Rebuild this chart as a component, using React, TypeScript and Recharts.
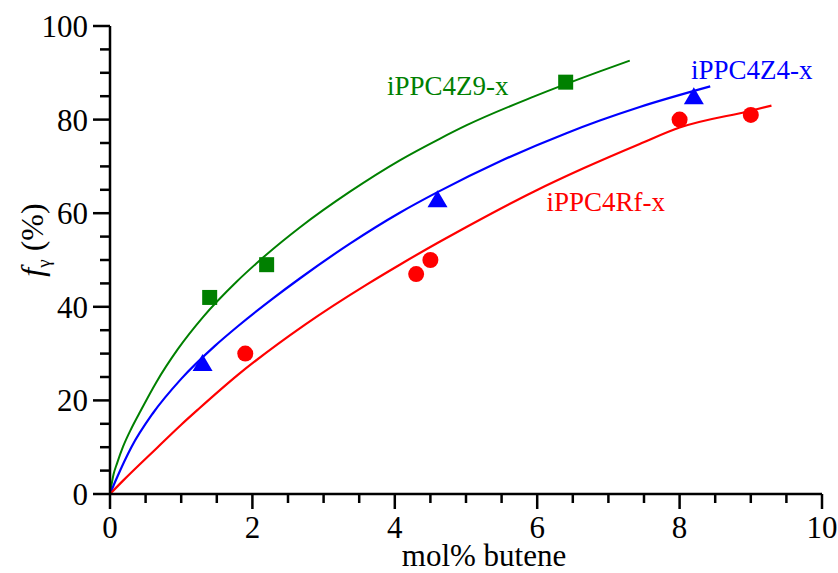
import React from 'react';
import { ComposedChart, Line, Scatter, XAxis, YAxis } from 'recharts';

const SERIF = '"Liberation Serif", "Times New Roman", serif';
const GREEN = '#008000';
const BLUE = '#0000ff';
const RED = '#ff0000';

// fitted curves as [mol% butene, f_gamma (%)]
const z9Curve = [
  [0, 0], [0.05, 4.2], [0.1, 6.6], [0.183, 10.1], [0.3, 14], [0.417, 17.4],
  [0.651, 23.9], [0.955, 31.0], [1.306, 37.8], [1.774, 45.3], [2.11, 50.0],
  [2.67, 57.0], [3.37, 64.6], [4.07, 71.3], [4.63, 75.9], [5.01, 78.8],
  [5.95, 84.9], [6.88, 90.3], [7.3, 92.6],
];
const z4Curve = [
  [0, 0], [0.089, 3.2], [0.3, 10], [0.6, 17.2], [1.0, 24.6], [1.47, 31.6],
  [1.8, 35.9], [2.29, 41.8], [2.67, 46.1], [3.37, 53.5], [4.07, 60.1],
  [4.6, 64.5], [5.48, 71.1], [6.41, 77.1], [6.88, 79.8], [7.44, 82.7],
  [8.43, 87.1],
];
const rfCurve = [
  [0, 0], [0.18, 2.8], [0.67, 10], [1.0, 14.8], [1.24, 18.1], [1.8, 25.5],
  [2.74, 36.2], [3.61, 44.8], [4.07, 49.0], [4.63, 53.9], [5.0, 57.0],
  [5.95, 64.6], [6.65, 69.6], [7.44, 74.8], [8.0, 78.3], [9.0, 81.9],
  [9.29, 83.0],
];

// measured samples
const z9Points = [[1.4, 42], [2.2, 49], [6.4, 88]];
const z4Points = [[1.3, 28], [4.6, 63], [8.2, 85]];
const rfPoints = [[1.9, 30], [4.3, 47], [4.5, 50], [8.0, 80], [9.0, 81]];

const xTicks = [0, 0.5, 1, 1.5, 2, 2.5, 3, 3.5, 4, 4.5, 5, 5.5, 6, 6.5, 7, 7.5, 8, 8.5, 9, 9.5, 10];
const yTicks = [0, 5, 10, 15, 20, 25, 30, 35, 40, 45, 50, 55, 60, 65, 70, 75, 80, 85, 90, 95, 100];

// series names, anchored at the start of their baseline (data units)
const seriesNames = [
  { name: 'iPPC4Z9-x', x: 3.89, y: 85.3, color: GREEN },
  { name: 'iPPC4Z4-x', x: 8.16, y: 88.6, color: BLUE },
  { name: 'iPPC4Rf-x', x: 6.13, y: 60.5, color: RED },
];

const toXY = (arr: number[][]) => arr.map(([x, y]) => ({ x, y }));

const XTick = (props: any) => {
  const { x, y, payload } = props;
  const major = payload.value % 2 === 0;
  return (
    <g>
      <line x1={x} x2={x} y1={y} y2={y + (major ? 15 : 9)} stroke="#000" strokeWidth={2.5} />
      {major && (
        <text x={x} y={y + 44} textAnchor="middle" fill="#000" fontSize={31} fontFamily={SERIF}>
          {payload.value}
        </text>
      )}
    </g>
  );
};

const YTick = (props: any) => {
  const { x, y, payload } = props;
  const major = payload.value % 20 === 0;
  return (
    <g>
      <line x1={x - (major ? 17 : 10)} x2={x} y1={y} y2={y} stroke="#000" strokeWidth={2.5} />
      {major && (
        <text x={x - 22} y={y + 11} textAnchor="end" fill="#000" fontSize={31} fontFamily={SERIF}>
          {payload.value}
        </text>
      )}
    </g>
  );
};

const Square = ({ cx, cy }: any) => <rect x={cx - 7.5} y={cy - 7.5} width={15} height={15} fill={GREEN} />;
const Triangle = ({ cx, cy }: any) => (
  <polygon points={`${cx},${cy - 9} ${cx + 10},${cy + 8} ${cx - 10},${cy + 8}`} fill={BLUE} />
);
const Circle = ({ cx, cy }: any) => <circle cx={cx} cy={cy} r={8} fill={RED} />;

const NameTag = (props: any) => {
  const { cx, cy, payload } = props;
  return (
    <text x={cx} y={cy} fill={payload.color} fontSize={27} fontFamily={SERIF}>
      {payload.name}
    </text>
  );
};

const XTitle = (props: any) => {
  const vb = props.viewBox;
  return (
    <text x={vb.x + vb.width / 2 + 18} y={vb.y + vb.height - 7} textAnchor="middle" fill="#000" fontSize={31} fontFamily={SERIF}>
      mol% butene
    </text>
  );
};

const YTitle = (props: any) => {
  const vb = props.viewBox;
  const cx = 43;
  const cy = vb.y + vb.height / 2 - 20;
  return (
    <text x={cx} y={cy} transform={`rotate(-90, ${cx}, ${cy})`} textAnchor="middle" fill="#000" fontSize={32} fontFamily={SERIF}>
      <tspan fontStyle="italic">f</tspan>
      <tspan fontSize={19} dy={7}>γ</tspan>
      <tspan dy={-7}> (%)</tspan>
    </text>
  );
};

export default function App() {
  return (
    <div style={{ position: 'absolute', left: 0, top: 0, width: 838, height: 573, background: '#fff' }}>
      <ComposedChart width={838} height={573} margin={{ top: 26, right: 16, bottom: 0, left: 0 }}>
        <XAxis
          type="number"
          dataKey="x"
          domain={[0, 10]}
          ticks={xTicks}
          interval={0}
          tickSize={0}
          tickMargin={0}
          tickLine={false}
          tick={XTick}
          axisLine={{ stroke: '#000', strokeWidth: 2.5 }}
          height={79}
          label={XTitle}
        />
        <YAxis
          type="number"
          dataKey="y"
          domain={[0, 100]}
          ticks={yTicks}
          interval={0}
          tickSize={0}
          tickMargin={0}
          tickLine={false}
          tick={YTick}
          axisLine={{ stroke: '#000', strokeWidth: 2.5 }}
          width={110}
          label={YTitle}
        />
        <Line data={toXY(z9Curve)} dataKey="y" type="monotone" stroke={GREEN} strokeWidth={2} dot={false} isAnimationActive={false} />
        <Line data={toXY(z4Curve)} dataKey="y" type="monotone" stroke={BLUE} strokeWidth={2.2} dot={false} isAnimationActive={false} />
        <Line data={toXY(rfCurve)} dataKey="y" type="monotone" stroke={RED} strokeWidth={2.2} dot={false} isAnimationActive={false} />
        <Scatter data={toXY(z9Points)} dataKey="y" shape={Square} isAnimationActive={false} />
        <Scatter data={toXY(z4Points)} dataKey="y" shape={Triangle} isAnimationActive={false} />
        <Scatter data={toXY(rfPoints)} dataKey="y" shape={Circle} isAnimationActive={false} />
        <Scatter data={seriesNames} dataKey="y" shape={NameTag} isAnimationActive={false} />
      </ComposedChart>
    </div>
  );
}
